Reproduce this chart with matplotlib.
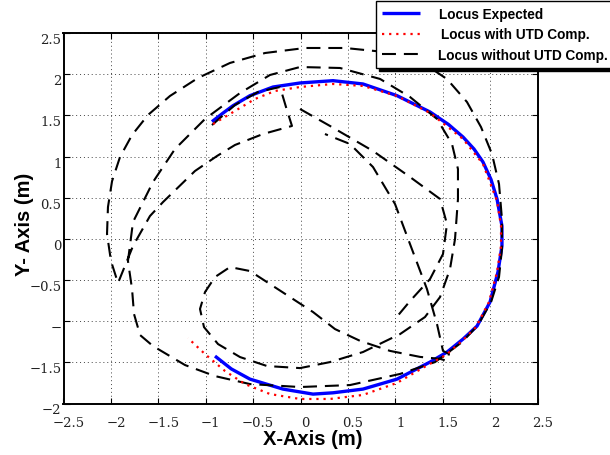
import numpy as np
import matplotlib
matplotlib.use("Agg")
import matplotlib.pyplot as plt
from matplotlib.transforms import ScaledTranslation

# Expected locus (m)
blue_x = [-0.934, -0.820, -0.712, -0.533, -0.290, -0.005, 0.343, 0.659, 1.018, 1.366,
          1.560, 1.714, 1.830, 1.925, 2.010, 2.073, 2.125, 2.125, 2.083, 1.999,
          1.862, 1.714, 1.545, 1.366, 1.018, 0.659, 0.343, 0.132, -0.185, -0.533,
          -0.730, -0.902]
blue_y = [1.423, 1.525, 1.617, 1.739, 1.844, 1.893, 1.921, 1.881, 1.739, 1.541,
          1.390, 1.237, 1.091, 0.933, 0.720, 0.484, 0.156, -0.087, -0.403, -0.768,
          -1.060, -1.218, -1.376, -1.497, -1.704, -1.825, -1.870, -1.886, -1.825, -1.704,
          -1.580, -1.424]

# Locus with UTD compensation (m)
red_x = [-0.923, -0.691, -0.480, -0.269, -0.005, 0.343, 0.659, 1.018, 1.366, 1.714,
         1.925, 2.073, 2.115, 2.115, 2.073, 1.988, 1.851, 1.704, 1.535, 1.345,
         1.018, 0.659, 0.311, -0.005, -0.322, -0.585, -0.796, -1.007, -1.187]
red_y = [1.394, 1.553, 1.699, 1.796, 1.844, 1.881, 1.857, 1.736, 1.529, 1.213,
         0.909, 0.459, 0.156, -0.087, -0.403, -0.768, -1.072, -1.240, -1.410, -1.531,
         -1.750, -1.896, -1.945, -1.945, -1.885, -1.764, -1.606, -1.400, -1.205]

# Locus without UTD compensation (m); NaN separates recorded runs
black_x = [-0.934, -0.691, -0.448, -0.216, -0.153, -0.090, -0.396, -0.691, -0.881, -1.113,
           -1.450, -1.588, -1.767, -1.925,
           -1.999, -2.041, -2.031, -1.988, -1.904, -1.777, -1.609, -1.377, -1.081, -0.744,
           -0.374, 0.047, 0.469, 0.891, 1.261, 1.545, 1.756, 1.904, 2.020, 2.094,
           2.125, 2.125, 2.094, 2.010, 1.872, 1.704, 1.535, 1.419,
           1.050, 0.522, -0.005,
           -0.533, -0.902, -1.218, -1.556, -1.692, -1.756, -1.777, -1.820, -1.767, -1.556,
           -1.324, -1.007, -0.638, -0.322, -0.005, 0.417, 0.839, 1.155, 1.440, 1.598,
           1.661, 1.661, 1.630, 1.577, 1.472, 1.313, 1.050, 0.659, 0.311, -0.005,
           -0.353, -0.638, -0.870, -1.018, -1.060, -1.007, -0.902, -0.744, -0.533, -0.322,
           -0.111, 0.132, 0.364, 0.628, 0.944, 1.261, 1.472, 1.545, 1.566, 1.503,
           1.440, 1.334, 1.155, 0.997, 0.765, 0.522, 0.258, np.nan,
           -0.005, 0.311, 0.765, 1.155, 1.472, 1.545, 1.503, 1.366, 1.155, 0.997]
black_y = [1.382, 1.626, 1.784, 1.844, 1.601, 1.371, 1.273, 1.140, 1.006, 0.824,
           0.447, 0.277, -0.087, -0.537,
           -0.270, 0.058, 0.386, 0.700, 0.994, 1.261, 1.504, 1.735, 1.954, 2.136,
           2.257, 2.318, 2.318, 2.269, 2.160, 1.941, 1.662, 1.358, 1.030, 0.666,
           0.241, -0.124, -0.464, -0.768, -1.048, -1.254, -1.400, -1.497,
           -1.641, -1.776, -1.800,
           -1.764, -1.667, -1.533, -1.302, -1.169, -0.914, -0.610, -0.270, 0.204, 0.690,
           1.091, 1.456, 1.771, 1.990, 2.087, 2.075, 1.942, 1.723, 1.456, 1.152,
           0.848, 0.484, -0.002, -0.367, -0.707, -0.950, -1.157, -1.375, -1.497, -1.570,
           -1.545, -1.436, -1.278, -1.072, -0.852, -0.646, -0.464, -0.343, -0.391, -0.549,
           -0.707, -0.889, -1.096, -1.239, -1.361, -1.434, -1.458, -1.482, -1.397, -1.361,
           -1.036, -0.610, -0.063, 0.423, 0.872, 1.152, 1.273, np.nan,
           1.577, 1.371, 1.067, 0.751, 0.484, 0.180, -0.185, -0.489, -0.756, -0.974]

x_ticks = [-2.5, -2, -1.5, -1, -0.5, 0, 0.5, 1, 1.5, 2, 2.5]
x_labels = ["−2.5", "−2", "−1.5", "−1", "−0.5", "0", "0.5", "1", "1.5", "2", "2.5"]
y_ticks = [-2, -1.5, -1, -0.5, 0, 0.5, 1, 1.5, 2, 2.5]
y_labels = ["−2", "−1.5", "−", "−0.5", "0", "0.5", "1", "1.5", "2", "2.5"]

fig = plt.figure(figsize=(6.10, 4.56), dpi=100)
ax = fig.add_axes([63.5 / 610, 1 - 404.5 / 456, 474 / 610, 370.5 / 456])

ax.plot(blue_x, blue_y, color="#0000ff", lw=2.4, solid_capstyle="butt",
        solid_joinstyle="round", label="Locus Expected", zorder=2.5)
ax.plot(red_x, red_y, color="#ff0000", lw=1.6, linestyle=(0, (1, 2.2)),
        label="Locus with UTD Comp.", zorder=4)
ax.plot(black_x, black_y, color="black", lw=1.5, linestyle=(0, (6.7, 3.8)),
        label="Locus without UTD Comp.", zorder=3)

ax.set_xlim(-2.5, 2.5)
ax.set_ylim(-2, 2.5)
ax.set_xticks(x_ticks)
ax.set_xticklabels(x_labels)
ax.set_yticks(y_ticks)
ax.set_yticklabels(y_labels)

ax.grid(True, color="#444444", linestyle=(0, (1, 3)), linewidth=0.7)
ax.set_axisbelow(True)
for s in ax.spines.values():
    s.set_linewidth(1.4)
ax.tick_params(direction="in", length=4, width=0.8, top=True, right=True,
               labelsize=9.5, colors="black")
ax.tick_params(axis="x", pad=9)
ax.tick_params(axis="y", pad=1.5)
for lab in ax.get_xticklabels() + ax.get_yticklabels():
    lab.set_fontfamily("DejaVu Serif")
    lab.set_color("#222222")

# nudge tick labels the way the original renderer placed them
for lab in ax.get_xticklabels():
    lab.set_transform(lab.get_transform() + ScaledTranslation(5 / 100, 0, fig.dpi_scale_trans))
for lab in ax.get_yticklabels():
    lab.set_transform(lab.get_transform() + ScaledTranslation(0, -5 / 100, fig.dpi_scale_trans))

ax.set_xlabel("X-Axis (m)", fontfamily="Liberation Sans", fontweight="bold",
              fontsize=14.5)
ax.set_ylabel("Y- Axis (m)", fontfamily="Liberation Sans", fontweight="bold",
              fontsize=14.5)
ax.xaxis.set_label_coords(0.526, -0.070)
ax.yaxis.set_label_coords(-0.062, 0.485)

leg = fig.legend(loc="lower left", bbox_to_anchor=(376 / 610, 1 - 69 / 456),
                 borderaxespad=0, prop={"family": "Liberation Sans", "weight": "bold",
                                        "size": 9.8},
                 handlelength=2.8, handletextpad=1.3, labelspacing=0.48,
                 borderpad=0.45, fancybox=False, framealpha=1,
                 edgecolor="black", shadow={"color": "black", "alpha": 1})
leg.get_frame().set_linewidth(1.0)
# slight stagger of the legend entries
for txt, dx in zip(leg.get_texts(), [1, 3, 0]):
    txt.set_transform(txt.get_transform() + ScaledTranslation(dx / 100, 0, fig.dpi_scale_trans))

fig.savefig("out.png", dpi=100)
